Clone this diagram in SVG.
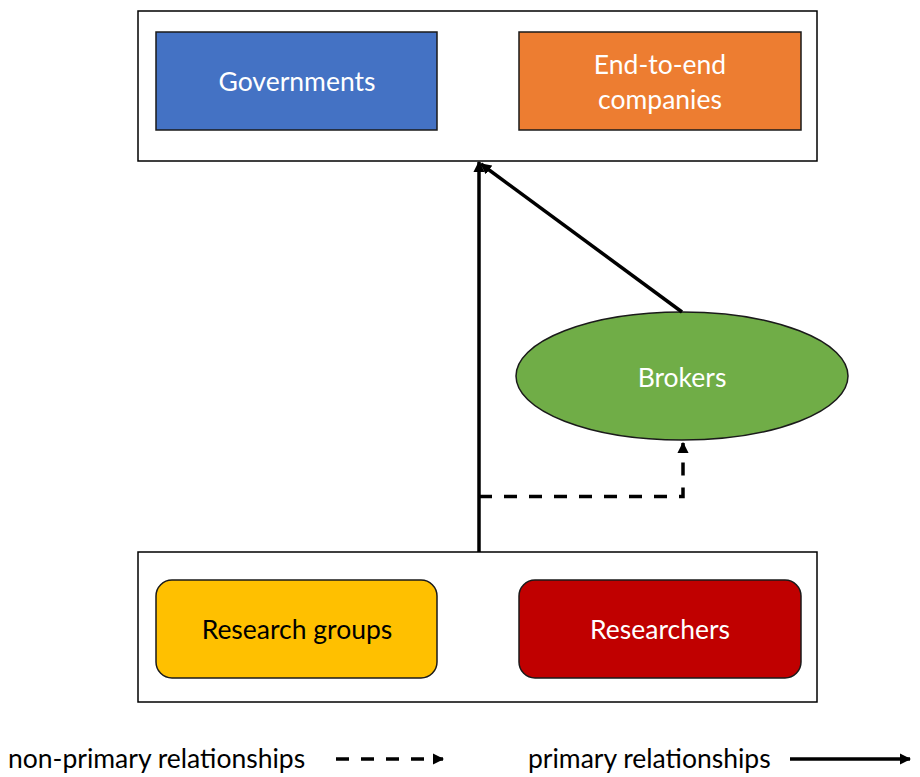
<svg xmlns="http://www.w3.org/2000/svg" width="920" height="777" viewBox="0 0 920 777">
<style>
.container{fill:#fff;stroke:#000;stroke-width:1.5}
.box{stroke:#1a1a1a;stroke-width:1.5}
.lbl{font-family:Lato,"Open Sans","Liberation Sans",sans-serif;font-size:26.5px;text-anchor:middle;dominant-baseline:central}
.w{fill:#fff}
.k{fill:#000}
.solid{fill:none;stroke:#000;stroke-width:3.5}
.dash{fill:none;stroke:#000;stroke-width:3.5;stroke-dasharray:13 12}
.leg{font-family:Lato,"Open Sans","Liberation Sans",sans-serif;font-size:26.5px;fill:#000}
</style>
<defs>
<marker id="ah" viewBox="0 0 10 10" refX="9" refY="5" markerWidth="3.2" markerHeight="3.2" orient="auto" markerUnits="strokeWidth">
<path d="M0,0 L10,5 L0,10 z" fill="#000"/>
</marker>
</defs>
<rect width="920" height="777" fill="#fff"/>
<g id="top-group">
<rect class="container" x="138" y="11" width="679" height="150"/>
</g>
<g id="governments">
<rect class="box" x="156" y="32" width="281" height="98" fill="#4472C4"/>
<text class="lbl w" x="297" y="81">Governments</text>
</g>
<g id="end-to-end">
<rect class="box" x="519" y="32" width="282" height="98" fill="#ED7D31"/>
<text class="lbl w" x="660" y="64">End-to-end</text>
<text class="lbl w" x="660" y="99">companies</text>
</g>
<g id="bottom-group">
<rect class="container" x="138" y="552" width="679" height="150"/>
</g>
<g id="research-groups">
<rect class="box" x="156" y="580" width="281" height="98" rx="16" fill="#FFC000"/>
<text class="lbl k" x="297" y="629">Research groups</text>
</g>
<g id="researchers">
<rect class="box" x="519" y="580" width="282" height="98" rx="16" fill="#C00000"/>
<text class="lbl w" x="660" y="629">Researchers</text>
</g>
<g id="brokers">
<ellipse class="box" cx="682" cy="376" rx="166" ry="64" fill="#70AD47"/>
<text class="lbl w" x="682" y="377">Brokers</text>
</g>
<g id="connectors">
<path class="solid" d="M479,552 L479,162" marker-end="url(#ah)"/>
<path class="solid" d="M682,312 L481,164" marker-end="url(#ah)"/>
<path class="dash" d="M479,496.5 L683,496.5 L683,443" marker-end="url(#ah)"/>
</g>
<g id="legend">
<text class="leg" x="8" y="768">non-primary relationships</text>
<path class="dash" d="M336,759 L443,759" marker-end="url(#ah)"/>
<text class="leg" x="528" y="768">primary relationships</text>
<path class="solid" d="M790,759 L910,759" marker-end="url(#ah)"/>
</g>
</svg>
